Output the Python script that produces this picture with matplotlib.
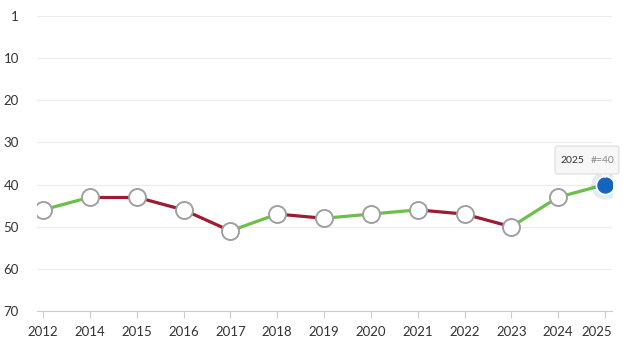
import matplotlib
matplotlib.use("Agg")
import matplotlib.pyplot as plt
from matplotlib.patches import FancyBboxPatch, Polygon

plt.rcParams['font.family'] = ['Lato', 'DejaVu Sans']

years = ['2012', '2014', '2015', '2016', '2017', '2018', '2019',
         '2020', '2021', '2022', '2023', '2024', '2025']
ranks = [46, 43, 43, 46, 51, 47, 48, 47, 46, 47, 50, 43, 40]
ytick_vals = [0, 10, 20, 30, 40, 50, 60, 70]
ytick_labels = ['1', '10', '20', '30', '40', '50', '60', '70']

green = '#6cc04a'
red = '#9e1b32'

fig = plt.figure(figsize=(6.32, 3.54), dpi=100)
ax = fig.add_axes([37 / 632, 1 - 311 / 354, 575 / 632, 295 / 354])

x = list(range(len(years)))

# segmenti colorati: verde se migliora, rosso altrimenti
for i in range(len(x) - 1):
    c = green if ranks[i + 1] < ranks[i] else red
    ax.plot(x[i:i + 2], ranks[i:i + 2], color=c, lw=2.3, solid_capstyle='round', zorder=2)

ax.scatter(x[:-1], ranks[:-1], s=150, facecolor='white', edgecolor='#a0a0a0',
           linewidth=1.4, zorder=3)

# punto evidenziato
ax.scatter([x[-1]], [ranks[-1]], s=420, color='#1565c0', alpha=0.12, linewidth=0, zorder=3)
ax.scatter([x[-1]], [ranks[-1]], s=170, color='#1565c0', edgecolor='white',
           linewidth=1.2, zorder=4)

ax.set_xlim(-0.13, len(x) - 1 + 0.15)
ax.set_ylim(70, 0)
ax.set_yticks(ytick_vals)
ax.set_yticklabels(ytick_labels)
ax.set_xticks(x)
ax.set_xticklabels(years)

ax.grid(axis='y', color='#ececec', lw=0.8)
ax.set_axisbelow(True)
for s in ['top', 'right', 'left']:
    ax.spines[s].set_visible(False)
ax.spines['bottom'].set_color('#cccccc')
ax.tick_params(axis='y', length=0, pad=13, labelsize=9.5, labelcolor='#333333')
ax.tick_params(axis='x', length=5, color='#cccccc', pad=6, labelsize=9.5, labelcolor='#333333')

# spostare l'ultima etichetta verso sinistra
offset = matplotlib.transforms.ScaledTranslation(-8 / 100, 0, fig.dpi_scale_trans)
xl = ax.get_xticklabels()[-1]
xl.set_transform(xl.get_transform() + offset)

# tooltip
tip = FancyBboxPatch((555 / 632, 1 - 174 / 354), 64 / 632, 28 / 354,
                     boxstyle='round,pad=0,rounding_size=0.005',
                     transform=fig.transFigure, facecolor='#f7f7f7',
                     edgecolor='#dddddd', lw=0.8, zorder=10)
fig.patches.append(tip)
arrow = Polygon([(600 / 632, 1 - 174.5 / 354), (610 / 632, 1 - 174.5 / 354),
                 (605 / 632, 1 - 178 / 354)], closed=True,
                transform=fig.transFigure, facecolor='#f7f7f7',
                edgecolor='none', zorder=11)
fig.patches.append(arrow)
fig.text(560 / 632, 1 - 160 / 354, '2025', fontsize=7.5, color='#333333',
         va='center', zorder=12)
fig.text(614 / 632, 1 - 160 / 354, '#=40', fontsize=7.5, color='#888888',
         va='center', ha='right', zorder=12)

plt.savefig('out.png', dpi=100)
